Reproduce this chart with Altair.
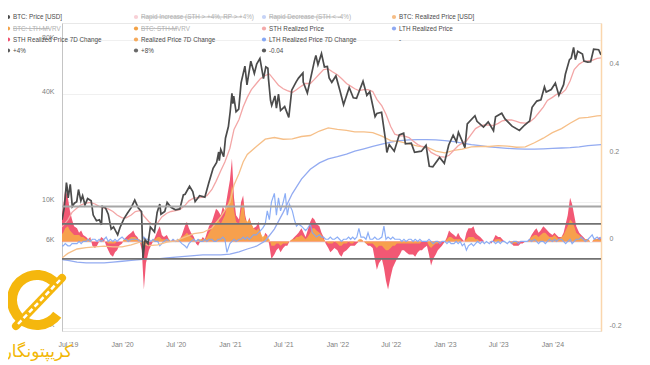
import altair as alt
import pandas as pd

# ---------------- data ----------------
price_dates = ["2019-06-11","2019-06-18","2019-06-22","2019-06-26","2019-06-28","2019-07-02","2019-07-09","2019-07-16","2019-07-23","2019-07-31",
"2019-08-06","2019-08-14","2019-08-20","2019-08-28","2019-09-06","2019-09-18","2019-09-25","2019-10-06","2019-10-16","2019-10-23",
"2019-10-26","2019-11-06","2019-11-15","2019-11-25","2019-12-03","2019-12-17","2019-12-25","2020-01-07","2020-01-19","2020-02-01",
"2020-02-13","2020-02-25","2020-03-07","2020-03-12","2020-03-19","2020-03-29","2020-04-06","2020-04-20","2020-04-29","2020-05-08",
"2020-05-12","2020-05-25","2020-06-02","2020-06-15","2020-06-30","2020-07-15","2020-07-27","2020-08-02","2020-08-17","2020-08-28",
"2020-09-05","2020-09-20","2020-10-08","2020-10-21","2020-11-05","2020-11-17","2020-11-24","2020-11-26","2020-12-01","2020-12-11",
"2020-12-17","2020-12-27","2021-01-02","2021-01-08","2021-01-11","2021-01-14","2021-01-22","2021-01-31","2021-02-08","2021-02-21",
"2021-02-28","2021-03-13","2021-03-25","2021-04-02","2021-04-13","2021-04-25","2021-05-03","2021-05-10","2021-05-12","2021-05-19",
"2021-05-23","2021-06-03","2021-06-08","2021-06-15","2021-06-22","2021-07-06","2021-07-20","2021-07-30","2021-08-14","2021-08-22",
"2021-09-06","2021-09-07","2021-09-21","2021-10-01","2021-10-15","2021-10-20","2021-10-27","2021-11-08","2021-11-18","2021-11-28",
"2021-12-04","2021-12-13","2021-12-27","2022-01-10","2022-01-22","2022-02-10","2022-02-24","2022-03-07","2022-03-29","2022-04-11",
"2022-04-21","2022-05-09","2022-05-15","2022-05-31","2022-06-13","2022-06-18","2022-06-26","2022-07-13","2022-07-30","2022-08-14",
"2022-08-20","2022-09-09","2022-09-20","2022-10-13","2022-10-29","2022-11-09","2022-11-21","2022-12-14","2022-12-30","2023-01-14",
"2023-01-29","2023-02-09","2023-02-16","2023-03-10","2023-03-18","2023-04-13","2023-04-20","2023-05-12","2023-05-28","2023-06-15",
"2023-06-22","2023-07-13","2023-07-24","2023-08-17","2023-09-11","2023-09-29","2023-10-16","2023-10-24","2023-11-09","2023-11-23",
"2023-12-05","2023-12-11","2023-12-28","2024-01-11","2024-01-23","2024-02-08","2024-02-14","2024-02-28","2024-03-05","2024-03-13",
"2024-03-19","2024-03-27","2024-04-12","2024-04-17","2024-04-30","2024-05-10","2024-05-20","2024-06-06","2024-06-14"]
price_values = [8000,9200,10700,12900,12300,10600,12600,9500,9900,10100,
11800,10200,10900,9700,10500,10200,8500,7900,8000,7500,
9500,9300,8600,7100,7300,6600,7250,8100,8700,9350,
10300,9300,8900,4900,6200,5900,7300,6850,8800,9800,
8600,8900,10000,9400,9100,9200,11000,11100,12300,11500,
10100,10900,10700,12800,15500,16700,19100,17100,19700,18000,
22800,26500,32000,40600,35500,39100,32000,33100,46400,57500,
45200,61200,52300,59000,63500,49000,57000,56000,49000,37000,
34700,39200,33500,40200,32500,34200,29800,42200,47000,49300,
52700,46800,40700,48200,61500,66000,58500,67500,56900,57200,
49400,46700,50700,41800,35000,43700,38300,38000,47400,39500,
41400,30100,31300,31800,22500,19000,21000,19300,23800,24300,
21200,21400,19000,19300,20800,15900,15800,17800,16500,20900,
23700,21800,24600,20200,27400,30400,28300,26300,28100,25100,
30000,31400,29200,26600,25200,27000,28500,33900,36700,37300,
44000,41200,42600,46300,39500,45300,51800,62500,63800,73100,
62400,69500,67100,61300,60600,60800,71400,71000,66500]

sth_dates = ["2019-06-11","2019-07-01","2019-07-15","2019-08-01","2019-08-15","2019-09-01","2019-09-15","2019-10-01","2019-10-15","2019-11-01",
"2019-11-15","2019-12-01","2019-12-15","2020-01-01","2020-01-15","2020-02-01","2020-02-15","2020-03-01","2020-03-15","2020-04-01",
"2020-04-15","2020-05-01","2020-05-15","2020-06-01","2020-06-15","2020-07-01","2020-07-15","2020-08-01","2020-08-15","2020-09-01",
"2020-09-15","2020-10-01","2020-10-15","2020-11-01","2020-11-15","2020-12-01","2020-12-15","2021-01-01","2021-01-15","2021-02-01",
"2021-02-15","2021-03-01","2021-03-15","2021-04-01","2021-04-15","2021-05-01","2021-05-15","2021-06-01","2021-06-15","2021-07-01",
"2021-07-15","2021-08-01","2021-08-15","2021-09-01","2021-09-15","2021-10-01","2021-10-15","2021-11-01","2021-11-15","2021-12-01",
"2021-12-15","2022-01-01","2022-01-15","2022-02-01","2022-02-15","2022-03-01","2022-03-15","2022-04-01","2022-04-15","2022-05-01",
"2022-05-15","2022-06-01","2022-06-15","2022-07-01","2022-07-15","2022-08-01","2022-08-15","2022-09-01","2022-09-15","2022-10-01",
"2022-10-15","2022-11-01","2022-11-15","2022-12-01","2022-12-15","2023-01-01","2023-01-15","2023-02-01","2023-02-15","2023-03-01",
"2023-03-15","2023-04-01","2023-04-15","2023-05-01","2023-05-15","2023-06-01","2023-06-15","2023-07-01","2023-07-15","2023-08-01",
"2023-08-15","2023-09-01","2023-09-15","2023-10-01","2023-10-15","2023-11-01","2023-11-15","2023-12-01","2023-12-15","2024-01-01",
"2024-01-15","2024-02-01","2024-02-15","2024-03-01","2024-03-15","2024-04-01","2024-04-15","2024-05-01","2024-05-15","2024-06-01",
"2024-06-14"]
sth_values = [7300,8000,8800,9300,9700,9900,10000,9800,9500,9300,
9200,8900,8500,8200,8200,8500,8900,9000,8400,7800,
7500,7700,8300,8700,8900,9000,9100,9600,10200,10600,
10600,10700,10900,11800,13100,15000,16800,20000,25500,29000,
34000,38500,42500,46000,49000,51000,52000,48000,45000,43000,
42000,41000,42500,44500,46000,46000,48500,52000,55000,55500,
53500,51500,49000,46000,44500,43000,42000,42500,42500,41500,
37500,34500,31000,26500,24000,23500,23500,23000,22000,21000,
20500,20300,19000,18400,18000,17900,18300,19600,20700,21400,
22000,24000,25800,26700,27000,27000,26800,27600,28500,28800,
28800,28300,27800,27700,28000,29500,31500,34000,37000,38500,
40000,40500,42500,47500,55000,59000,61000,61500,62000,63500,
64000]

rp_dates = ["2019-06-11","2019-07-01","2019-08-01","2019-09-01","2019-10-01","2019-11-01","2019-12-01","2020-01-01","2020-02-01","2020-03-01",
"2020-04-01","2020-05-01","2020-06-01","2020-07-01","2020-08-01","2020-09-01","2020-10-01","2020-11-01","2020-12-01","2021-01-01",
"2021-01-15","2021-02-01","2021-02-15","2021-03-01","2021-04-01","2021-05-01","2021-06-01","2021-07-01","2021-08-01","2021-09-01",
"2021-10-01","2021-11-01","2021-12-01","2022-01-01","2022-02-01","2022-03-01","2022-04-01","2022-05-01","2022-06-01","2022-07-01",
"2022-08-01","2022-09-01","2022-10-01","2022-11-01","2022-12-01","2023-01-01","2023-02-01","2023-03-01","2023-04-01","2023-05-01",
"2023-06-01","2023-07-01","2023-08-01","2023-09-01","2023-10-01","2023-11-01","2023-12-01","2024-01-01","2024-02-01","2024-03-01",
"2024-04-01","2024-05-01","2024-06-01","2024-06-14"]
rp_values = [4900,5200,5500,5600,5650,5700,5650,5650,5800,6000,
5750,5800,6000,6100,6400,6700,6800,7200,8300,10000,
12500,14500,16800,18500,20500,22500,23000,22500,22600,23300,
23600,25000,26000,25500,25200,24700,24700,24500,23400,22100,
21800,21200,20600,20300,19300,18900,19500,19800,20400,20500,
20500,20700,20600,20300,20400,21500,22800,24500,25800,27600,
29500,29800,30400,30500]

lth_dates = ["2019-06-11","2019-07-01","2019-08-01","2019-09-01","2019-10-01","2019-11-01","2019-12-01","2020-01-01","2020-02-01","2020-03-01",
"2020-04-01","2020-05-01","2020-06-01","2020-07-01","2020-08-01","2020-09-01","2020-10-01","2020-11-01","2020-12-01","2021-01-01",
"2021-02-01","2021-03-01","2021-04-01","2021-05-01","2021-06-01","2021-07-01","2021-08-01","2021-09-01","2021-10-01","2021-11-01",
"2021-12-01","2022-01-01","2022-02-01","2022-03-01","2022-04-01","2022-05-01","2022-06-01","2022-07-01","2022-08-01","2022-09-01",
"2022-10-01","2022-11-01","2022-12-01","2023-01-01","2023-02-01","2023-03-01","2023-04-01","2023-05-01","2023-06-01","2023-07-01",
"2023-08-01","2023-09-01","2023-10-01","2023-11-01","2023-12-01","2024-01-01","2024-02-01","2024-03-01","2024-04-01","2024-05-01",
"2024-06-14"]
lth_values = [4800,4750,4650,4600,4600,4600,4650,4700,4750,4800,
4850,4850,4900,4950,5000,5050,5100,5100,5100,5150,
5300,5500,5700,6100,7100,8800,11200,13500,15300,16600,
17500,18000,18600,19300,19900,20500,21100,21700,22100,22300,
22400,22400,22300,22100,21800,21400,21000,20700,20400,20200,
20000,19900,19800,19800,19900,20000,20100,20200,20400,20700,
21000]

# 7-day changes: four readings per month (days 1, 8, 15, 22), Jun 2019 .. Jun 2024
chg_months = pd.period_range("2019-06", "2024-06", freq="M")
chg_days = [1, 8, 15, 22]
sth_chg = [
 0.04,0.05,0.08,0.12, 0.10,0.07,0.05,0.035, 0.03,0.02,0.025,0.015, 0.01,0.005,0.01,-0.01,
 -0.015,-0.01,0.0,0.01, 0.005,-0.01,-0.02,-0.03, -0.035,-0.025,-0.02,-0.01,
 -0.005,0.005,0.01,0.015, 0.02,0.025,0.015,0.01, 0.0,-0.02,-0.11,-0.05, -0.02,-0.01,0.0,0.01,
 0.025,0.035,0.015,0.01, 0.015,0.005,0.0,0.005, 0.0,0.005,0.005,0.015, 0.035,0.045,0.03,0.02,
 0.01,-0.005,-0.01,0.0, 0.01,0.005,0.02,0.035, 0.045,0.06,0.075,0.07, 0.06,0.08,0.07,0.10,
 0.14,0.19,0.10,0.06, 0.05,0.09,0.105,0.06, 0.04,0.055,0.04,0.03, 0.035,0.045,0.02,0.0,
 0.02,0.015,-0.01,-0.04, -0.03,-0.02,-0.015,-0.025, -0.015,-0.01,-0.01,0.0, 0.005,0.01,0.015,0.02,
 0.03,0.02,0.01,0.025, 0.045,0.055,0.05,0.04, 0.035,0.02,0.01,-0.005, -0.015,-0.025,-0.02,-0.015,
 -0.02,-0.03,-0.035,-0.025, -0.02,-0.015,-0.01,-0.01, -0.01,-0.005,0.0,0.005, 0.0,-0.005,-0.01,-0.01,
 -0.015,-0.04,-0.065,-0.05, -0.04,-0.06,-0.09,-0.11, -0.08,-0.06,-0.05,-0.04, -0.03,-0.02,-0.02,-0.025,
 -0.03,-0.03,-0.03,-0.035, -0.025,-0.02,-0.02,-0.015, -0.01,-0.03,-0.055,-0.04, -0.03,-0.02,-0.015,-0.01,
 0.0,0.01,0.025,0.02, 0.015,0.01,0.02,0.01, 0.005,0.0,0.02,0.03, 0.03,0.035,0.02,0.015,
 0.01,0.005,0.0,0.0, 0.0,-0.005,0.005,0.015, 0.01,0.01,0.005,0.0, 0.0,0.0,-0.005,-0.01,
 -0.01,-0.01,-0.005,-0.005, 0.0,0.0,0.005,0.015, 0.025,0.03,0.02,0.025, 0.035,0.03,0.025,0.02,
 0.015,0.02,0.015,0.01, 0.01,0.02,0.04,0.06, 0.10,0.085,0.06,0.035, 0.02,0.015,0.01,0.005,
 0.005,0.0,0.0,0.005, 0.005,0.01,0.005,0.0]
rp_chg = [
 0.01,0.015,0.02,0.03, 0.035,0.025,0.02,0.015, 0.015,0.015,0.01,0.01, 0.005,0.005,0.005,0.0,
 0.0,0.0,0.0,0.005, 0.0,0.0,-0.005,-0.005, -0.005,-0.005,0.0,0.0,
 0.0,0.005,0.005,0.005, 0.01,0.01,0.01,0.005, 0.005,0.0,-0.02,-0.005, 0.0,0.0,0.005,0.005,
 0.01,0.01,0.005,0.005, 0.005,0.005,0.0,0.0, 0.0,0.005,0.005,0.01, 0.015,0.02,0.015,0.01,
 0.005,0.0,0.005,0.005, 0.005,0.005,0.01,0.02, 0.03,0.04,0.045,0.05, 0.04,0.05,0.06,0.08,
 0.10,0.13,0.07,0.045, 0.04,0.07,0.09,0.05, 0.045,0.05,0.04,0.03, 0.025,0.03,0.02,0.01,
 0.015,0.01,0.005,-0.01, -0.01,-0.005,-0.005,-0.01, -0.005,-0.005,-0.005,0.0, 0.005,0.005,0.01,0.01,
 0.015,0.01,0.005,0.01, 0.02,0.03,0.03,0.025, 0.02,0.015,0.005,0.0, -0.005,-0.005,-0.005,0.0,
 -0.005,-0.01,-0.01,-0.005, -0.005,0.0,-0.005,-0.005, 0.0,0.0,0.005,0.005, 0.0,-0.005,-0.005,-0.005,
 -0.005,-0.01,-0.015,-0.01, -0.01,-0.015,-0.02,-0.02, -0.015,-0.01,-0.01,-0.005, -0.005,-0.005,-0.005,-0.005,
 -0.005,-0.005,-0.005,-0.005, -0.005,-0.005,0.0,0.0, 0.0,-0.01,-0.015,-0.01, -0.005,-0.005,0.0,0.0,
 0.0,0.005,0.01,0.01, 0.005,0.005,0.005,0.005, 0.0,0.0,0.005,0.01, 0.01,0.01,0.005,0.005,
 0.0,0.0,0.0,0.0, 0.0,0.0,0.0,0.005, 0.005,0.005,0.0,0.0, 0.0,0.0,-0.005,-0.005,
 -0.005,0.0,0.0,0.0, 0.0,0.0,0.005,0.01, 0.015,0.015,0.01,0.015, 0.02,0.02,0.015,0.01,
 0.01,0.015,0.01,0.005, 0.01,0.015,0.025,0.035, 0.05,0.045,0.035,0.02, 0.015,0.01,0.005,0.005,
 0.005,0.0,0.0,0.005, 0.005,0.005,0.005,0.0]
lth_chg = [
 -0.005,-0.01,-0.01,-0.005, -0.01,-0.01,-0.005,-0.005, -0.005,0.0,-0.005,0.0, 0.0,0.005,0.0,0.005,
 0.005,0.0,0.005,0.0, 0.005,0.01,0.0,0.005, 0.0,0.005,0.0,0.005,
 0.01,0.005,0.005,0.0, 0.005,0.005,0.005,0.005, 0.0,0.0,0.01,0.005, 0.005,0.0,0.005,0.0,
 0.0,-0.01,-0.005,0.0, 0.005,0.0,0.0,0.005, 0.0,0.005,0.0,-0.005, -0.01,-0.015,-0.005,0.0,
 0.005,0.0,0.005,0.0, 0.0,0.005,0.0,0.005, 0.005,0.0,0.0,0.005, 0.005,0.01,0.005,-0.025,
 -0.005,0.0,0.005,0.0, 0.005,0.005,0.01,0.005, 0.01,0.005,0.01,0.015, 0.015,0.02,0.025,0.03,
 0.04,0.07,0.05,0.09, 0.11,0.06,0.10,0.07, 0.09,0.11,0.06,0.085, 0.07,0.05,0.035,0.04,
 0.035,0.03,0.025,0.03, 0.04,0.02,0.015,0.01, 0.015,0.01,0.01,0.005, 0.005,0.01,0.005,0.005,
 0.01,0.005,0.0,0.005, 0.005,0.01,0.005,0.01, 0.005,0.01,0.03,0.01, 0.01,0.005,0.02,0.005,
 0.005,0.01,0.005,0.005, 0.01,0.035,0.005,0.01, 0.005,0.01,0.005,0.005, 0.005,0.0,0.005,0.0,
 0.005,0.005,0.0,0.005, 0.0,0.005,0.0,0.0, 0.0,0.005,0.0,-0.005, 0.0,0.0,-0.005,0.0,
 0.0,-0.005,0.0,-0.005, -0.005,0.0,-0.005,0.0, -0.01,-0.005,-0.02,-0.01, -0.005,-0.01,-0.005,0.0,
 -0.005,0.0,-0.005,0.0, -0.005,0.0,0.0,-0.005, 0.0,-0.005,0.0,0.0, -0.005,0.0,-0.005,0.0,
 0.0,-0.005,0.0,0.0, 0.0,0.0,0.005,0.0, 0.005,0.0,-0.005,0.0, 0.0,-0.005,0.0,0.005,
 0.0,0.005,0.0,0.005, 0.005,0.0,-0.005,0.0, 0.005,-0.005,0.0,0.005, 0.005,0.01,0.005,0.0,
 0.005,0.01,0.015,0.005, 0.01,0.005,0.01,0.0]

band_values = [0.08, 0.04, -0.04]
band_colors = ["#a6a6a6", "#727272", "#727272"]

legend_labels = ["BTC: Price [USD]", "Rapid Increase (STH > +4%, RP > +4%)", "Rapid Decrease (STH < -4%)", "BTC: Realized Price [USD]",
                 "BTC: LTH-MVRV", "BTC: STH-MVRV", "STH Realized Price", "LTH Realized Price",
                 "STH Realized Price 7D Change", "Realized Price 7D Change", "LTH Realized Price 7D Change", "-",
                 "+4%", "+8%", "-0.04"]
legend_dots = ["#4a4a4a", "#f8d0d6", "#c6d3f6", "#f6bd85",
               "#f3a247", "#f3a247", "#f4a9a9", "#8fa9f2",
               "#f0506e", "#f5aa5c", "#86a8f4", "",
               "#5a5a5a", "#6a6a6a", "#5a5a5a"]
legend_hidden = [False, True, True, False, True, True, False, False,
                 False, False, False, False, False, False, False]

# ---------------- frames ----------------
def frame(d, v):
    return pd.DataFrame({"date": pd.to_datetime(d), "value": v})

chg_dates = [pd.Timestamp(year=m.year, month=m.month, day=d) for m in chg_months for d in chg_days]
price_df = frame(price_dates, price_values)
sth_df = frame(sth_dates, sth_values)
rp_df = frame(rp_dates, rp_values)
lth_df = frame(lth_dates, lth_values)
sthc_df = frame(chg_dates, sth_chg)
rpc_df = frame(chg_dates, rp_chg)
lthc_df = frame(chg_dates, lth_chg)
band_df = pd.DataFrame({"value": band_values, "color": band_colors})

col_x = [-54, 74, 202, 332]
row_y = [-6, 5.5, 16.5, 27.5]
leg = pd.DataFrame({"label": legend_labels, "dot": legend_dots, "hidden": legend_hidden})
leg["lx"] = [col_x[i % 4] for i in range(len(leg))]
leg["ly"] = [row_y[i // 4] for i in range(len(leg))]
leg["tx"] = leg["lx"] + 5
leg["tcolor"] = ["#b0b0b0" if h else "#4a4a4a" for h in leg["hidden"]]
leg["sx2"] = leg["tx"] + leg["label"].str.len() * 2.8

# ---------------- encodings ----------------
x_axis = alt.Axis(
    values=[alt.DateTime(year=y, month=m, date=1) for y, m in
            [(2019, 7), (2020, 1), (2020, 7), (2021, 1), (2021, 7), (2022, 1), (2022, 7), (2023, 1), (2023, 7), (2024, 1)]],
    format="%b '%y", labelFontSize=7, labelColor="#808080", labelPadding=9, ticks=False,
    domainColor="#e4e4e4", grid=False, title=None)
x_enc = alt.X("date:T", scale=alt.Scale(domain=[alt.DateTime(year=2019, month=6, date=11),
                                                alt.DateTime(year=2024, month=6, date=14)]),
              axis=x_axis)

right_scale = alt.Scale(domain=[-0.205, 0.5], nice=False, zero=False)
right_axis = alt.Axis(orient="right", values=[-0.2, 0, 0.2, 0.4], labelExpr="datum.value + ''",
                      ticks=False, domainColor="#fad6ad", domainWidth=1.5, grid=False,
                      labelOffset=-3, labelPadding=8, labelFontSize=7, labelColor="#808080", title=None)
left_scale = alt.Scale(type="log", domain=[1920, 100000], nice=False)
left_axis = alt.Axis(orient="left", values=[2000, 6000, 10000, 40000, 80000],
                     labelExpr="datum.value / 1000 + 'K'", ticks=False, domainColor="#c4c4c4",
                     grid=True, gridColor="#f0f0f0", labelOffset=-3, labelPadding=8,
                     labelFontSize=7, labelColor="#808080", title=None)
y_right = alt.Y("value:Q", scale=right_scale, axis=right_axis)
y_left = alt.Y("value:Q", scale=left_scale, axis=left_axis)

# right-axis group: 7D changes
red_area = alt.Chart(sthc_df).mark_area(color="#f14f6d", opacity=0.95, clip=True).encode(
    x=x_enc, y=y_right, y2=alt.datum(0))
orange_area = alt.Chart(rpc_df).mark_area(color="#f7a64a", opacity=0.92, clip=True).encode(
    x=x_enc, y=y_right, y2=alt.datum(0))
blue_line = alt.Chart(lthc_df).mark_line(color="#7fa5f5", strokeWidth=1.2, opacity=0.9, clip=True).encode(
    x=x_enc, y=y_right)
right_group = alt.layer(red_area, orange_area, blue_line)

# left-axis group: prices (log)
def price_line(df, color, width):
    return alt.Chart(df).mark_line(color=color, strokeWidth=width, clip=True).encode(x=x_enc, y=y_left)

left_group = alt.layer(
    price_line(lth_df, "#93abf1", 1.3),
    price_line(rp_df, "#f6bf88", 1.3),
    price_line(sth_df, "#f3a6a6", 1.3),
    price_line(price_df, "#4b4b4b", 1.7),
)

bands = alt.Chart(band_df).mark_rule(strokeWidth=1.8).encode(
    y=alt.Y("value:Q", scale=right_scale, axis=None),
    color=alt.Color("color:N", scale=None))

# legend
leg_dots = alt.Chart(leg[leg["dot"] != ""]).mark_circle(size=18, opacity=1).encode(
    x=alt.X("lx:Q", scale=None, axis=None), y=alt.Y("ly:Q", scale=None, axis=None),
    color=alt.Color("dot:N", scale=None))
leg_text = alt.Chart(leg).mark_text(align="left", baseline="middle", fontSize=6.3, font="Liberation Sans").encode(
    x=alt.X("tx:Q", scale=None, axis=None), y=alt.Y("ly:Q", scale=None, axis=None),
    text="label:N", color=alt.Color("tcolor:N", scale=None))
leg_strike = alt.Chart(leg[leg["hidden"]]).mark_rule(color="#b0b0b0", strokeWidth=0.8).encode(
    x=alt.X("tx:Q", scale=None, axis=None), x2="sx2:Q", y=alt.Y("ly:Q", scale=None, axis=None))

# watermark logo
one = pd.DataFrame({"k": [0]})
logo_arc = alt.Chart(one).mark_arc(color="#f5b70d").encode(
    x=alt.value(-25), y=alt.value(277), theta=alt.value(2.2), theta2=alt.value(7.2),
    radius=alt.value(30), radius2=alt.value(20))
logo_chain = alt.Chart(one).mark_rule(color="#f5b70d", strokeWidth=8, strokeCap="round").encode(
    x=alt.value(-46), x2=alt.value(0), y=alt.value(303), y2=alt.value(255))
logo_links = alt.Chart(one).mark_rule(color="#ffffff", strokeWidth=2.5, strokeDash=[5, 3]).encode(
    x=alt.value(-44), x2=alt.value(-2), y=alt.value(301), y2=alt.value(257))
logo_text = alt.Chart(one).mark_text(text="کریپتونگار", font="DejaVu Sans", fontSize=17,
                                     color="#f2b705", align="center",
                                     baseline="middle").encode(x=alt.value(-24), y=alt.value(329))

chart = alt.layer(
    right_group, left_group, bands,
    leg_dots, leg_text, leg_strike,
    logo_arc, logo_chain, logo_links, logo_text,
).resolve_scale(y="independent").properties(
    width=539, height=308,
    autosize=alt.AutoSizeParams(type="none"),
    padding={"left": 54, "top": 15, "right": 41, "bottom": 34},
).configure_view(stroke="#e8e8e8").configure_axis(labelFont="Liberation Sans")

chart.save("out.html", embed_options={"renderer": "svg", "actions": False})
